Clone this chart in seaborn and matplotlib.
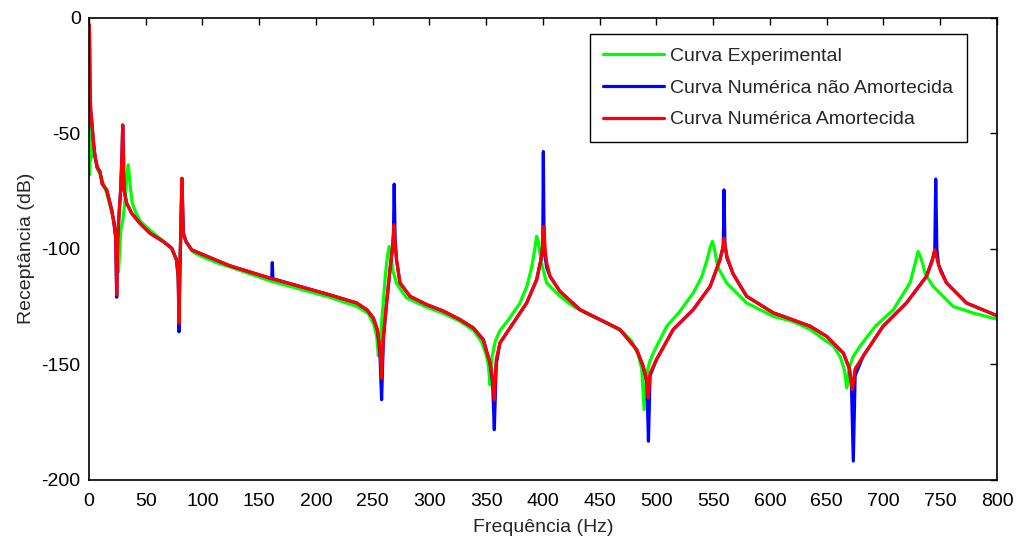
import matplotlib
matplotlib.use("Agg")
import matplotlib.pyplot as plt
import seaborn as sns
import pandas as pd

# ---------------- data ----------------
freq_exp = [0.0, 0.4, 0.8, 1.3, 1.8, 2.4, 3.0, 3.6, 4.5, 5.5, 7.0, 10.0, 15.0, 20.0, 22.0,
            24.0, 25.0, 26.0, 27.0, 28.0, 30.0, 32.0, 33.5, 34.6, 36.0, 38.0, 41.0, 45.0,
            55.0, 65.0, 73.0, 77.0, 78.5, 79.5, 80.5, 81.5, 83.0, 86.0, 92.0, 100.0, 115.0,
            125.0, 160.0, 212.0, 236.0, 246.0, 251.0, 253.5, 254.9, 256.5, 258.5, 261.0,
            263.0, 264.5, 266.0, 268.0, 271.0, 275.0, 279.8, 297.0, 312.0, 327.0, 339.0,
            346.0, 350.0, 352.0, 353.3, 355.0, 358.0, 362.0, 370.0, 379.7, 386.0, 390.0,
            392.5, 394.4, 396.0, 398.5, 403.2, 415.0, 426.7, 440.0, 456.0, 470.0, 478.0,
            484.0, 487.0, 489.1, 491.0, 494.0, 497.2, 509.0, 520.0, 532.3, 540.0, 545.0,
            547.5, 549.3, 551.0, 554.0, 561.8, 579.4, 603.0, 620.0, 635.5, 648.0, 656.0,
            662.0, 665.5, 667.7, 669.5, 673.0, 679.3, 693.0, 708.7, 718.0, 723.4, 727.5,
            730.5, 733.0, 737.0, 743.7, 761.3, 780.0, 800.0]
db_exp = [-33.0, -68.0, -45.0, -62.0, -50.0, -60.0, -54.0, -58.0, -57.0, -61.0, -65.0,
          -68.0, -75.0, -84.0, -88.0, -95.0, -103.0, -110.0, -101.0, -92.0, -87.0, -78.0,
          -68.0, -63.6, -71.0, -80.0, -84.0, -88.0, -92.5, -96.5, -100.0, -105.0, -112.0,
          -125.0, -100.0, -74.0, -93.0, -97.5, -101.5, -103.5, -106.5, -108.0, -114.0,
          -121.0, -125.0, -128.0, -133.0, -138.0, -146.4, -140.0, -128.0, -112.0, -103.0,
          -99.0, -103.0, -110.0, -115.0, -118.0, -121.3, -125.2, -128.0, -131.5, -135.5,
          -140.5, -146.0, -151.0, -158.9, -147.0, -140.0, -135.5, -130.5, -123.5, -116.0,
          -108.0, -101.0, -94.6, -97.0, -106.0, -114.8, -120.6, -125.0, -128.5, -132.2,
          -136.0, -140.0, -146.0, -152.0, -169.7, -155.0, -149.0, -145.2, -133.6, -127.5,
          -119.2, -112.0, -104.0, -99.0, -96.8, -100.0, -108.0, -114.8, -123.5, -129.3,
          -131.5, -135.0, -139.5, -142.2, -147.0, -152.5, -160.3, -152.0, -147.0, -142.2,
          -133.5, -126.4, -119.0, -114.8, -107.0, -101.2, -104.0, -111.0, -116.3, -125.0,
          -128.0, -130.5]

freq_und = [0.0, 0.3, 0.6, 1.0, 1.5, 2.3, 3.8, 5.3, 7.3, 9.7, 11.7, 15.6, 20.0, 22.0, 23.5,
            24.4, 25.3, 26.7, 27.9, 29.0, 29.7, 30.4, 30.8, 33.2, 37.6, 44.9, 53.7, 65.5,
            72.9, 77.2, 78.6, 79.3, 80.0, 80.8, 81.9, 83.1, 85.5, 90.5, 97.8, 115.4, 124.2,
            161.0, 161.5, 162.0, 212.3, 235.8, 245.0, 250.5, 254.0, 256.3, 257.8, 259.3,
            262.2, 265.2, 267.3, 268.2, 268.9, 269.7, 271.0, 274.0, 282.8, 297.5, 312.2,
            326.9, 338.6, 347.4, 353.3, 355.6, 357.1, 358.8, 362.1, 373.8, 385.6, 394.4,
            398.8, 399.8, 400.3, 400.9, 401.8, 403.2, 406.2, 415.0, 432.6, 450.2, 467.8,
            482.5, 488.3, 491.5, 492.9, 494.3, 500.0, 514.7, 532.3, 547.3, 555.9, 558.8,
            559.5, 560.3, 562.0, 567.6, 579.4, 603.0, 611.7, 635.5, 650.0, 664.6, 670.0,
            671.8, 673.4, 675.0, 682.0, 699.6, 720.2, 737.8, 743.5, 745.2, 746.0, 747.0,
            748.5, 755.5, 773.1, 798.0, 800.0]
db_und = [-30.0, -3.0, -15.0, -33.0, -40.0, -44.0, -53.0, -60.0, -64.7, -66.6, -72.0,
          -74.5, -83.2, -89.0, -95.0, -121.0, -95.0, -83.2, -74.5, -60.0, -46.4, -60.0,
          -74.5, -80.3, -84.6, -89.0, -93.3, -96.9, -99.8, -104.9, -112.0, -136.0, -110.0,
          -94.8, -69.5, -93.3, -96.9, -100.5, -102.0, -105.6, -107.4, -113.0, -106.0,
          -113.0, -120.0, -123.5, -126.5, -130.0, -135.0, -145.0, -165.4, -140.0, -123.6,
          -109.0, -100.0, -95.0, -72.0, -96.0, -105.0, -114.8, -120.6, -124.2, -127.0,
          -130.7, -134.3, -139.4, -149.5, -158.0, -178.4, -150.0, -140.8, -132.2, -123.5,
          -113.4, -103.3, -98.0, -57.9, -95.0, -103.0, -108.0, -112.0, -118.5, -126.4,
          -130.7, -135.0, -143.7, -151.0, -158.0, -183.4, -155.0, -148.0, -135.0, -126.4,
          -116.3, -104.8, -99.0, -74.5, -98.0, -104.0, -111.0, -120.6, -127.8, -129.3,
          -133.6, -138.0, -145.2, -152.0, -160.0, -192.0, -155.0, -146.6, -133.6, -123.5,
          -112.0, -104.0, -100.4, -69.8, -100.0, -107.0, -114.8, -123.5, -128.6, -129.0]

freq_dmp = [0.0, 0.3, 0.6, 1.0, 1.5, 2.3, 3.8, 5.3, 7.3, 9.7, 11.7, 15.6, 20.0, 22.0, 23.5,
            24.4, 25.3, 26.7, 27.9, 29.0, 29.7, 30.4, 30.8, 33.2, 37.6, 44.9, 53.7, 65.5,
            72.9, 77.2, 78.6, 79.3, 80.0, 80.8, 81.9, 83.1, 85.5, 90.5, 97.8, 115.4, 124.2,
            161.5, 212.3, 235.8, 245.0, 250.5, 254.0, 256.3, 257.8, 259.3, 262.2, 265.2,
            267.3, 268.7, 270.0, 271.0, 274.0, 282.8, 297.5, 312.2, 326.9, 338.6, 347.4,
            353.3, 355.6, 357.1, 358.8, 362.1, 373.8, 385.6, 394.4, 398.8, 400.0, 400.9,
            401.8, 403.2, 406.2, 415.0, 432.6, 450.2, 467.8, 482.5, 488.3, 491.5, 492.7,
            494.3, 500.0, 514.7, 532.3, 547.3, 555.9, 558.5, 559.6, 560.8, 562.5, 567.6,
            579.4, 603.0, 611.7, 635.5, 650.0, 664.6, 670.0, 672.5, 675.0, 682.0, 699.6,
            720.2, 737.8, 742.5, 745.2, 748.0, 750.5, 755.5, 773.1, 798.0, 800.0]
db_dmp = [-30.0, -3.0, -15.0, -33.0, -40.0, -44.0, -53.0, -60.0, -64.7, -66.6, -72.0,
          -74.5, -83.2, -89.0, -95.0, -120.0, -95.0, -83.2, -74.5, -60.0, -46.4, -60.0,
          -74.5, -80.3, -84.6, -89.0, -93.3, -96.9, -99.8, -104.9, -112.0, -132.3, -110.0,
          -94.8, -69.5, -93.3, -96.9, -100.5, -102.0, -105.6, -107.4, -113.0, -120.0,
          -123.5, -126.5, -130.0, -135.0, -143.0, -156.0, -138.0, -123.6, -109.0, -100.0,
          -89.6, -100.0, -105.0, -114.8, -120.6, -124.2, -127.0, -130.7, -134.3, -139.4,
          -149.5, -156.0, -165.4, -148.0, -140.8, -132.2, -123.5, -113.4, -103.3, -97.0,
          -90.3, -100.0, -106.0, -112.0, -118.5, -126.4, -130.7, -135.0, -143.7, -151.0,
          -157.0, -164.6, -154.0, -148.0, -135.0, -126.4, -116.3, -104.8, -99.5, -95.4,
          -100.0, -104.0, -111.0, -120.6, -127.8, -129.3, -133.6, -138.0, -145.2, -152.0,
          -161.0, -152.0, -146.6, -133.6, -123.5, -112.0, -106.0, -100.4, -106.0, -110.0,
          -114.8, -123.5, -128.6, -129.0]

series_labels = ["Curva Experimental", "Curva Numérica não Amortecida",
                 "Curva Numérica Amortecida"]
x_ticks = [0, 50, 100, 150, 200, 250, 300, 350, 400, 450, 500, 550, 600, 650, 700, 750, 800]
y_ticks = [0, -50, -100, -150, -200]
x_label = "Frequência (Hz)"
y_label = "Receptância (dB)"

# ---------------- styling ----------------
sns.set_style("white")
plt.rcParams["font.family"] = ["Liberation Sans", "DejaVu Sans"]
plt.rcParams["font.size"] = 14
plt.rcParams["axes.unicode_minus"] = False

fig = plt.figure(figsize=(10.16, 5.41), dpi=100)
ax = fig.add_axes([89 / 1016, 1 - 479.5 / 541, 908 / 1016, 461.5 / 541])

colors = ["#00ff00", "#0000ff", "#ff0000"]
frames = [
    pd.DataFrame({"f": freq_exp, "db": db_exp}),
    pd.DataFrame({"f": freq_und, "db": db_und}),
    pd.DataFrame({"f": freq_dmp, "db": db_dmp}),
]
for df, c, lab in zip(frames, colors, series_labels):
    sns.lineplot(data=df, x="f", y="db", color=c, linewidth=2.3, sort=False,
                 estimator=None, label=lab, ax=ax)

ax.set_xlim(0, 800)
ax.set_ylim(-200, 0)
ax.set_xticks(x_ticks)
ax.set_yticks(y_ticks)
ax.set_xlabel(x_label, fontsize=14, labelpad=6)
ax.set_ylabel(y_label, fontsize=14, labelpad=5)
ax.tick_params(direction="in", length=5, width=1, top=True, right=True,
               labelsize=14, colors="black")
ax.tick_params(axis="x", pad=10)
ax.tick_params(axis="y", pad=6)
for s in ax.spines.values():
    s.set_visible(True)
    s.set_color("black")
    s.set_linewidth(1.2)

leg = ax.legend(loc="upper right", bbox_to_anchor=((967 - 89) / 908, (479.5 - 34) / 461.5),
                borderaxespad=0, frameon=True, fancybox=False, edgecolor="black",
                framealpha=1, fontsize=14, handlelength=3.1, handletextpad=0.35,
                labelspacing=0.72, borderpad=0.7)
leg.get_frame().set_linewidth(1.0)

fig.savefig("out.png", dpi=100)
